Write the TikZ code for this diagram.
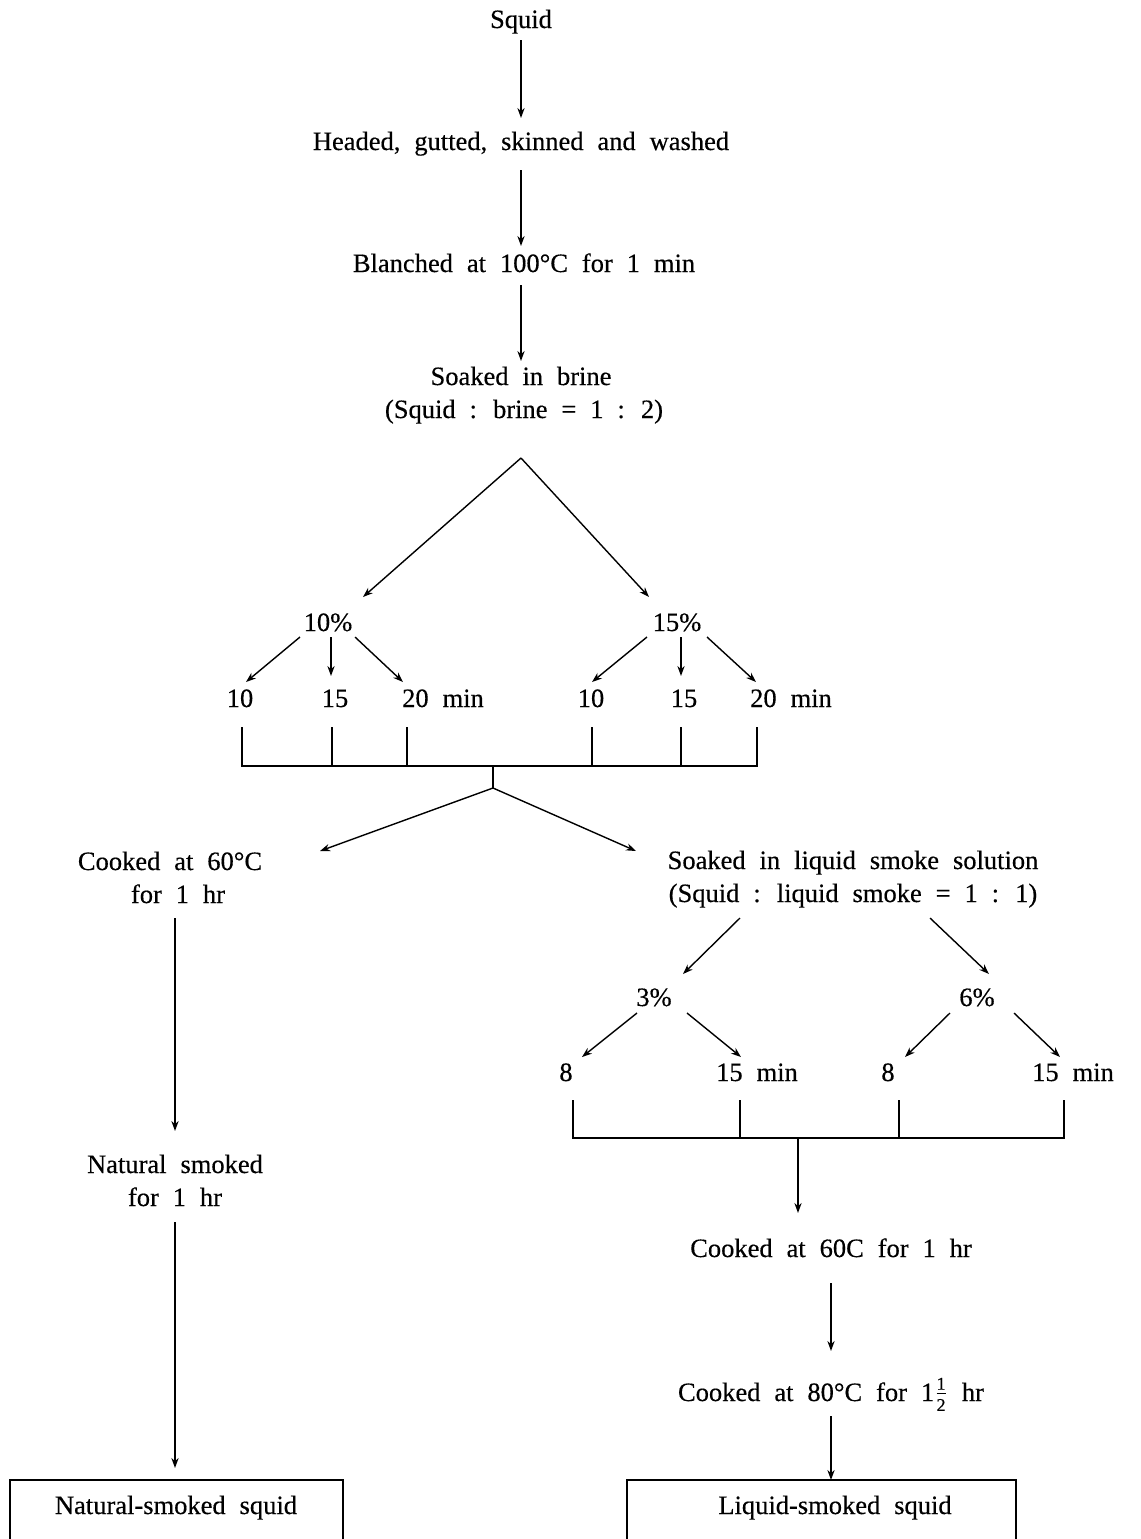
\documentclass[tikz,border=0pt]{standalone}
\usepackage{fontspec}
\setmainfont[WordSpace=2.1,FakeBold=0.4]{Liberation Serif}
\usetikzlibrary{arrows.meta}
\begin{document}
\begin{tikzpicture}[x=0.5pt,y=-0.5pt,
  txt/.style={font=\fontsize{13.25}{16}\selectfont, inner sep=0pt, anchor=base},
  arr/.style={-{Stealth[length=5pt,width=3.6pt]}, line width=0.7pt},
  ln/.style={line width=0.7pt}]
\useasboundingbox (0,0) rectangle (1141,1539);
% texts
\node[txt] (squid) at (521,28) {Squid};
\node[txt] (head) at (521,150) {Headed, gutted, skinned and washed};
\node[txt] (blanch) at (524,272) {Blanched at 100°C for 1 min};
\node[txt] (brine1) at (521,385) {Soaked in brine};
\node[txt] (brine2) at (524,418) {(Squid : brine = 1 : 2)};
\node[txt] (p10) at (328,631) {10\%};
\node[txt] (p15) at (677,631) {15\%};
\node[txt] (a10) at (240,707) {10};
\node[txt] (a15) at (335,707) {15};
\node[txt] (a20) at (443,707) {20 min};
\node[txt] (b10) at (591,707) {10};
\node[txt] (b15) at (684,707) {15};
\node[txt] (b20) at (791,707) {20 min};
\node[txt] (cook1) at (170,870) {Cooked at 60°C};
\node[txt] (cook2) at (178,903) {for 1 hr};
\node[txt] (liq1) at (853,869) {Soaked in liquid smoke solution};
\node[txt] (liq2) at (853,902) {(Squid : liquid smoke = 1 : 1)};
\node[txt] (p3) at (654,1006) {3\%};
\node[txt] (p6) at (977,1006) {6\%};
\node[txt] (c8) at (566,1081) {8};
\node[txt] (c15) at (757,1081) {15 min};
\node[txt] (d8) at (888,1081) {8};
\node[txt] (d15) at (1073,1081) {15 min};
\node[txt] (nat1) at (175,1173) {Natural smoked};
\node[txt] (nat2) at (175,1206) {for 1 hr};
\node[txt] (cookc) at (831,1257) {Cooked at 60C for 1 hr};
\node[txt] (cookd) at (831,1401) {Cooked at 80°C for 1$\frac{\mbox{\small 1}}{\mbox{\small 2}}$ hr};
\node[txt] (natbox) at (176,1514) {Natural-smoked squid};
\node[txt] (liqbox) at (835,1514) {Liquid-smoked squid};
% coordinates
\coordinate (s1) at (521,40);   \coordinate (s2) at (521,118);
\coordinate (h1) at (521,170);  \coordinate (h2) at (521,246);
\coordinate (bl1) at (521,285); \coordinate (bl2) at (521,361);
\coordinate (br) at (521,458);
\coordinate (L) at (363,597);   \coordinate (R) at (649,597);
\coordinate (x1) at (300,637);  \coordinate (x1e) at (246,682);
\coordinate (x2) at (331,637);  \coordinate (x2e) at (331,676);
\coordinate (x3) at (355,637);  \coordinate (x3e) at (403,682);
\coordinate (y1) at (647,637);  \coordinate (y1e) at (592,682);
\coordinate (y2) at (681,637);  \coordinate (y2e) at (681,676);
\coordinate (y3) at (707,637);  \coordinate (y3e) at (756,682);
\coordinate (m) at (493,766);   \coordinate (m2) at (493,788);
\coordinate (mL) at (320,851);  \coordinate (mR) at (636,851);
\coordinate (q1) at (740,918);  \coordinate (q1e) at (683,974);
\coordinate (q2) at (930,918);  \coordinate (q2e) at (989,974);
\coordinate (u1) at (637,1013); \coordinate (u1e) at (582,1057);
\coordinate (u2) at (687,1013); \coordinate (u2e) at (741,1057);
\coordinate (v1) at (950,1013); \coordinate (v1e) at (905,1057);
\coordinate (v2) at (1014,1013);\coordinate (v2e) at (1060,1057);
\coordinate (n) at (798,1138);  \coordinate (ne) at (798,1213);
\coordinate (k1) at (831,1283); \coordinate (k1e) at (831,1351);
\coordinate (k2) at (831,1416); \coordinate (k2e) at (831,1480);
\coordinate (t1) at (175,918);  \coordinate (t1e) at (175,1131);
\coordinate (t2) at (175,1222); \coordinate (t2e) at (175,1468);
% arrows
\draw[arr] (s1) -- (s2);
\draw[arr] (h1) -- (h2);
\draw[arr] (bl1) -- (bl2);
\draw[arr] (br) -- (L);
\draw[arr] (br) -- (R);
\draw[arr] (x1) -- (x1e);
\draw[arr] (x2) -- (x2e);
\draw[arr] (x3) -- (x3e);
\draw[arr] (y1) -- (y1e);
\draw[arr] (y2) -- (y2e);
\draw[arr] (y3) -- (y3e);
\draw[ln] (242,727) -- (242,766) -- (757,766) -- (757,727);
\foreach \xx in {332,407,592,681} \draw[ln] (\xx,727) -- (\xx,766);
\draw[ln] (m) -- (m2);
\draw[arr] (m2) -- (mL);
\draw[arr] (m2) -- (mR);
\draw[arr] (q1) -- (q1e);
\draw[arr] (q2) -- (q2e);
\draw[arr] (u1) -- (u1e);
\draw[arr] (u2) -- (u2e);
\draw[arr] (v1) -- (v1e);
\draw[arr] (v2) -- (v2e);
\draw[ln] (573,1100) -- (573,1138) -- (1064,1138) -- (1064,1100);
\foreach \xx in {740,899} \draw[ln] (\xx,1100) -- (\xx,1138);
\draw[arr] (n) -- (ne);
\draw[arr] (k1) -- (k1e);
\draw[arr] (k2) -- (k2e);
\draw[arr] (t1) -- (t1e);
\draw[arr] (t2) -- (t2e);
% boxes (open at the bottom edge)
\draw[ln] (10,1539) -- (10,1480) -- (343,1480) -- (343,1539);
\draw[ln] (627,1539) -- (627,1480) -- (1016,1480) -- (1016,1539);
\end{tikzpicture}
\end{document}
